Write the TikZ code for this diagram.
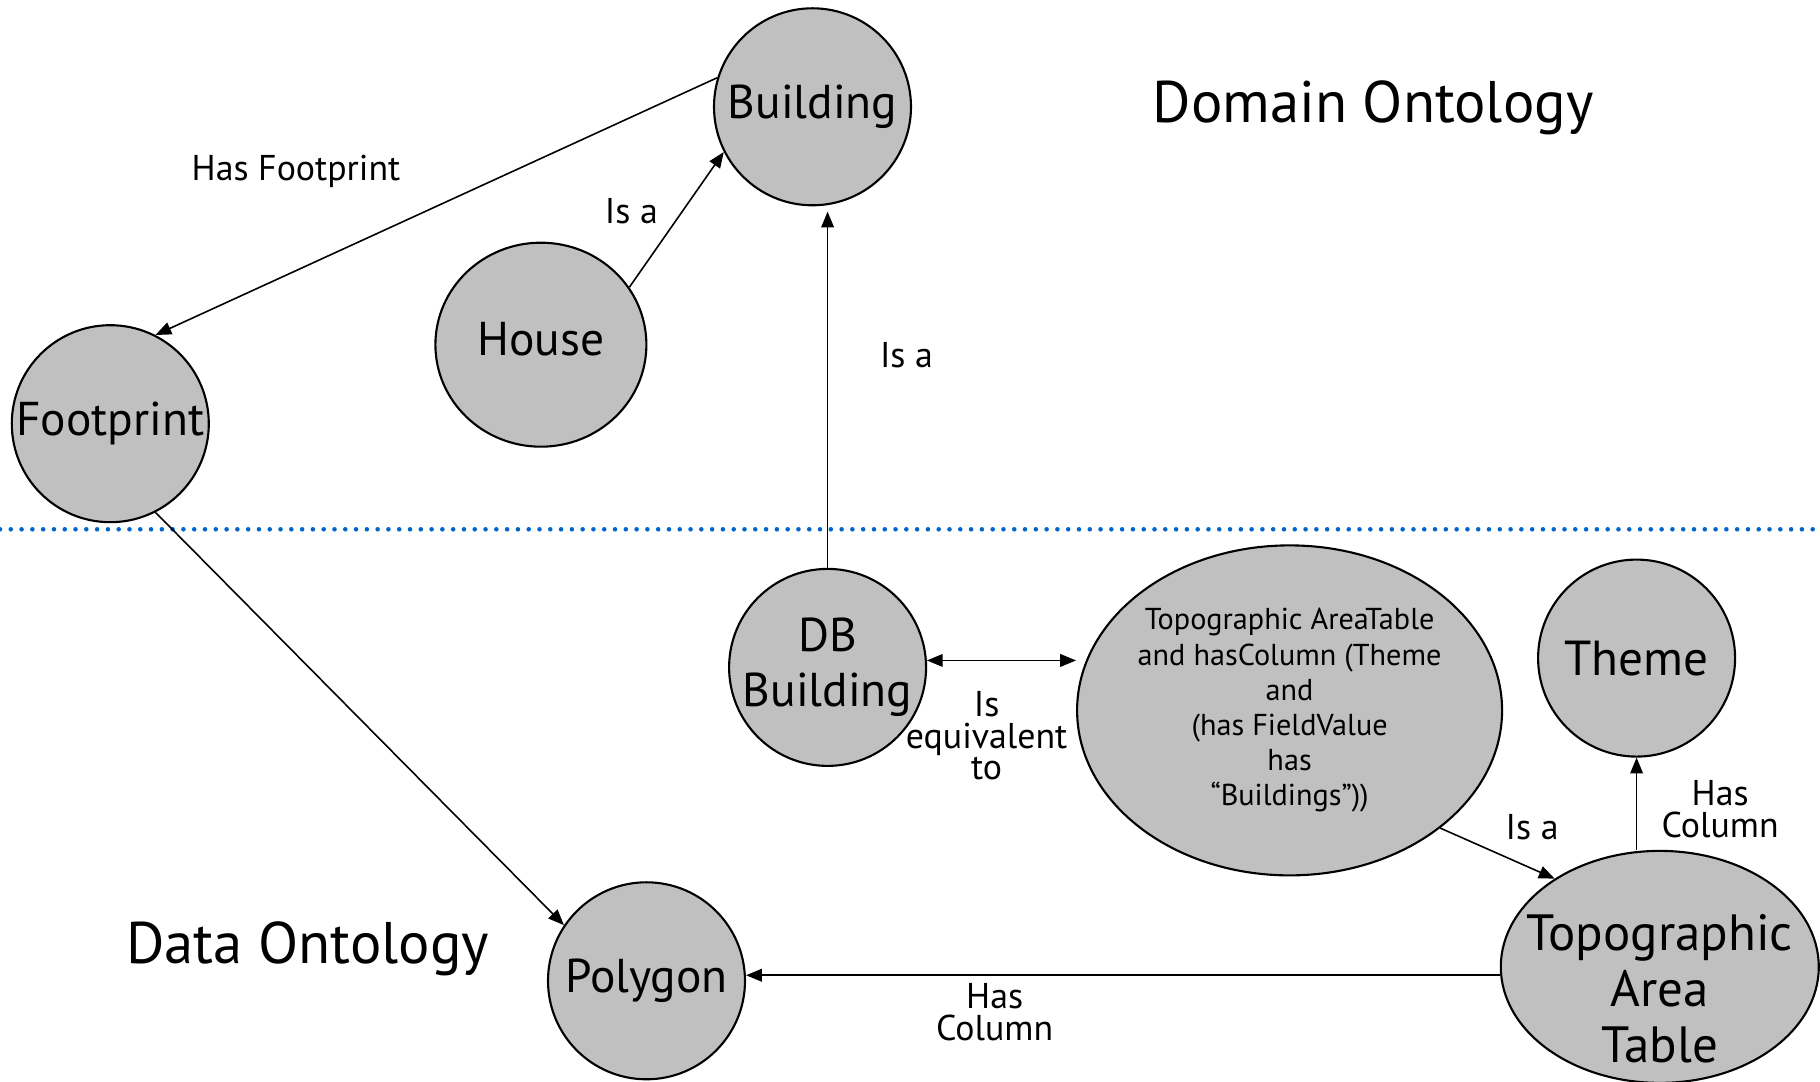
\documentclass[tikz,border=0pt]{standalone}
\usepackage{fontspec}
\setmainfont{PT Sans}
\usetikzlibrary{shapes.geometric, arrows.meta}
\definecolor{conceptgray}{RGB}{192,192,192}
\definecolor{dividerblue}{RGB}{0,102,204}
\tikzstyle{concept} = [ellipse,
draw=black,
line width=0.6pt,
fill=conceptgray,
inner sep=-8pt,
minimum width=1.97cm,
minimum height=1.97cm,
align=center,
font=\fontsize{13.5}{15.8}\selectfont]
\tikzstyle{relation} = [align=center, font=\fontsize{10.2}{9}\selectfont]
\tikzstyle{title} = [font=\fontsize{16.7}{20}\selectfont]
\tikzstyle{divider} = [draw=dividerblue, line width=1.3pt, line cap=round,
dash pattern=on 0pt off 3.07pt]
\tikzstyle{arrow} = [line width=0.45pt,->,>={Triangle[length=4.5pt,width=3.6pt]}]

\begin{document}
\begin{tikzpicture}

    \useasboundingbox (0,0) rectangle (18.2,10.82);

    % domain ontology
    \node (bldg) [concept] at (8.125,9.752) {Building};
    \node (house) [concept, minimum width=2.11cm, minimum height=2.04cm] at (5.409,7.373) {};
    \node (housetext) [font=\fontsize{13.5}{15.8}\selectfont] at (5.409,7.43) {House};
    \node (foot) [concept] at (1.103,6.583) {Footprint};
    \node (domain) [title] at (13.731,9.74) {Domain Ontology};

    \draw [divider] (0,5.527) -- (18.2,5.527);

    % data ontology
    \node (dbbldg) [concept] at (8.276,4.146) {DB\\Building};
    \node (areadef) [concept, minimum width=4.25cm, minimum height=3.30cm,
        font=\fontsize{8.6}{10}\selectfont] at (12.896,3.716)
        {Topographic AreaTable\\and hasColumn (Theme\\and\\(has FieldValue\\has\\“Buildings”))};
    \node (theme) [concept, font=\fontsize{14}{16}\selectfont] at (16.366,4.239) {Theme};
    \node (areatable) [concept, minimum width=3.18cm, minimum height=2.32cm] at (16.598,1.151) {};
    \node (areatabletext) [align=center, font=\fontsize{14.5}{15.9}\selectfont] at (16.598,0.93)
        {Topographic\\[0pt]Area\\[0pt]Table};
    \node (poly) [concept] at (6.465,1.012) {Polygon};
    \node (data) [title] at (3.076,1.33) {Data Ontology};

    \draw [arrow] (bldg.163) -- (foot.63);
    \draw [arrow] (house.33) -- (bldg.207);
    \draw [arrow, shorten >=1.5pt] (dbbldg.north) -- (dbbldg.north |- bldg.south);
    \draw [arrow, <->] (dbbldg.4) -- (dbbldg.4 -| areadef.west);
    \draw [arrow] (areadef.-38) -- (areatable.140);
    \draw [arrow] (theme.south |- areatable.north) -- (theme.south);
    \draw [arrow] (areatable.183) -- (areatable.183 -| poly.east);
    \draw [arrow] (foot.-63) -- (poly.146);

    \node (lblfoot) [relation] at (2.960,9.11) {Has Footprint};
    \node (lblhouse) [relation] at (6.314,8.707) {Is a};
    \node (lbldb) [relation] at (9.065,7.268) {Is a};
    \node (lblequiv) [relation] at (9.866,3.461) {Is\\equivalent\\to};
    \node (lblarea) [relation] at (15.321,2.544) {Is a};
    \node (lbltheme) [relation] at (17.202,2.730) {Has\\Column};
    \node (lblpoly) [relation] at (9.947,0.698) {Has\\Column};

\end{tikzpicture}
\end{document}
